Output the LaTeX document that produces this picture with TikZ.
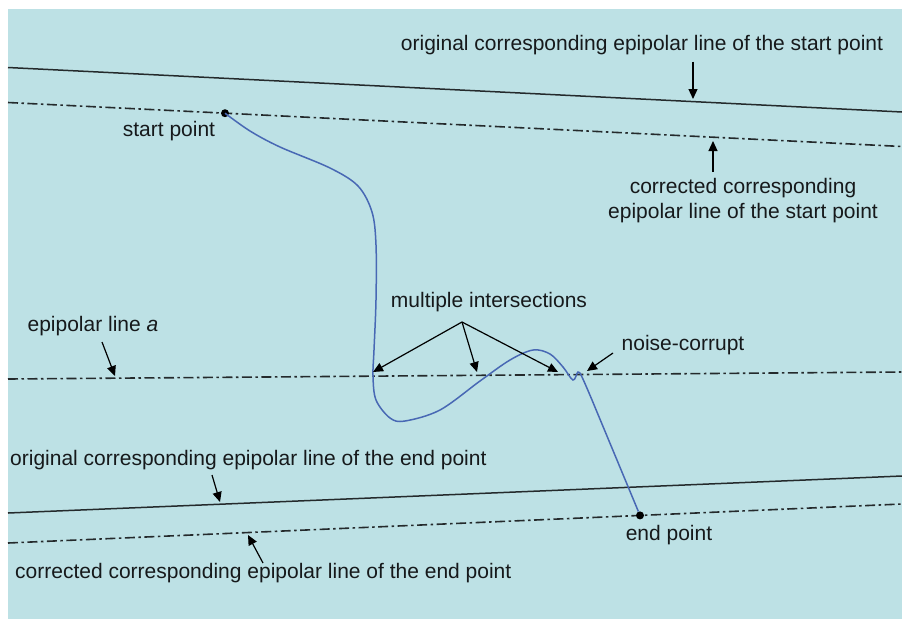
\documentclass[tikz,border=0pt]{standalone}
\usepackage{fontspec}
\setmainfont{Liberation Sans}
\usetikzlibrary{arrows.meta}
\definecolor{bgcolor}{RGB}{189,225,229}
\definecolor{curvecolor}{RGB}{72,104,180}
\definecolor{linecolor}{RGB}{36,42,44}
\definecolor{txtcolor}{RGB}{22,25,27}

\begin{document}
\begin{tikzpicture}[x=1pt, y=-1pt,
  every node/.style={font=\fontsize{21}{25}\selectfont, text=txtcolor, inner sep=0pt},
  epiline/.style={linecolor, line width=1.5pt},
  dashline/.style={linecolor, line width=1.6pt, dash pattern=on 10pt off 3.5pt on 2.5pt off 3.5pt},
  arr/.style={-{Triangle[length=10pt, width=9pt]}, black, line width=1.2pt},
  curve/.style={curvecolor, line width=1.5pt},
  dotpt/.style={circle, fill=black, minimum size=8pt, inner sep=0pt}]

\useasboundingbox (0,0) rectangle (902,619);
\fill[bgcolor] (8,9) rectangle (902,619);

% epipolar lines
\coordinate (os1) at (8,67.5);  \coordinate (os2) at (902,112);
\coordinate (cs1) at (8,102.5); \coordinate (cs2) at (902,146.5);
\coordinate (ea1) at (8,379);   \coordinate (ea2) at (902,372);
\coordinate (oe1) at (8,513);   \coordinate (oe2) at (902,476);
\coordinate (ce1) at (8,543);   \coordinate (ce2) at (902,504);

\draw[epiline] (os1) -- (os2);
\draw[dashline] (cs1) -- (cs2);
\draw[dashline] (ea1) -- (ea2);
\draw[epiline] (oe1) -- (oe2);
\draw[dashline] (ce1) -- (ce2);

% start and end point
\node[dotpt] (spt) at (225,113.2) {};
\node[dotpt] (ept) at (640,515.4) {};

% the matched curve
\draw[curve] plot[smooth, tension=0.55] coordinates {(225,113.2) (250,131) (280,147) (330,168)
  (358,186) (372,212) (376,245) (376,300) (374,350) (373,376) (376,400) (390,418)
  (405,421) (440,410) (480,381) (510,360) (533,350) (550,354) (563,367) (573,380)
  (578,372) (582,377) (592,400)} -- (ept);

% labels
\node[anchor=base] (topLbl) at (642,50) {original corresponding epipolar line of the start point};
\node[anchor=base] (startLbl) at (169,136) {start point};
\node[anchor=north, align=center] (corrLbl) at (743,178) {corrected corresponding\\epipolar line of the start point};
\node[anchor=base] (eaLbl) at (93,331) {epipolar line \textit{a}};
\node[anchor=base] (miLbl) at (489,307) {multiple intersections};
\node[anchor=base] (noiseLbl) at (683,350) {noise-corrupt};
\node[anchor=base west] (oeLbl) at (10,465) {original corresponding epipolar line of the end point};
\node[anchor=base west] (ceLbl) at (15,578) {corrected corresponding epipolar line of the end point};
\node[anchor=base] (endLbl) at (669,540) {end point};

% arrow ends
\coordinate (osTip) at (693,99);
\coordinate (csTip) at (713,141);
\coordinate (eaFrom) at (102,342);  \coordinate (eaTip) at (115,376);
\coordinate (miFrom) at (462,322);
\coordinate (mi1) at (373,372); \coordinate (mi2) at (477,372); \coordinate (mi3) at (558,372);
\coordinate (nsFrom) at (613,353);  \coordinate (nsTip) at (587,371);
\coordinate (oeFrom) at (212,475);  \coordinate (oeTip) at (220,502);
\coordinate (ceFrom) at (263,563);  \coordinate (ceTip) at (248,535);

\draw[arr] ([yshift=-7pt]topLbl.south -| osTip) -- (osTip);
\draw[arr] ([yshift=6pt]corrLbl.north -| csTip) -- (csTip);
\draw[arr] (eaFrom) -- (eaTip);
\draw[arr] (miFrom) -- (mi1);
\draw[arr] (miFrom) -- (mi2);
\draw[arr] (miFrom) -- (mi3);
\draw[arr] (nsFrom) -- (nsTip);
\draw[arr] (oeFrom) -- (oeTip);
\draw[arr] (ceFrom) -- (ceTip);
\end{tikzpicture}
\end{document}
